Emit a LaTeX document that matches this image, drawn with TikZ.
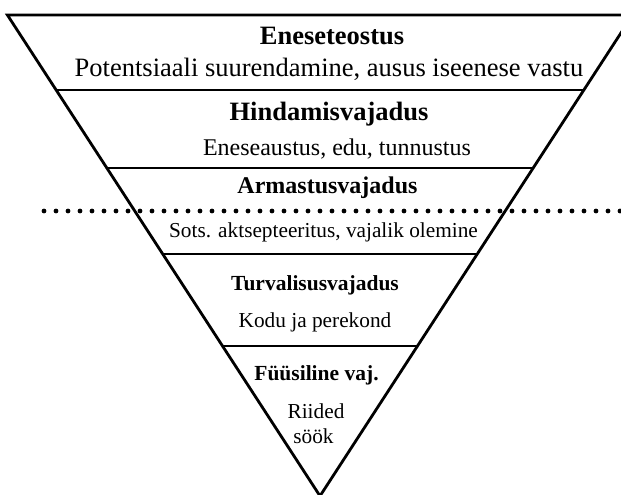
\documentclass[tikz,border=0pt]{standalone}
\usepackage{fontspec}
\setmainfont{Liberation Serif}
\usetikzlibrary{calc}
\begin{document}
\begin{tikzpicture}[x=1pt,y=-1pt,line width=2.8pt,
  lbl/.style={anchor=base,inner sep=0pt},
  big/.style={lbl,font=\fontsize{26.5}{30}\selectfont},
  bigb/.style={lbl,font=\fontsize{26.5}{30}\selectfont\bfseries},
  mid/.style={lbl,font=\fontsize{24}{28}\selectfont},
  midb/.style={lbl,font=\fontsize{24}{28}\selectfont\bfseries},
  sml/.style={lbl,font=\fontsize{21.3}{25}\selectfont},
  smlb/.style={lbl,font=\fontsize{21.5}{25}\selectfont\bfseries},
  dotline/.style={line width=4.8pt,line cap=round,dash pattern=on 0pt off 12pt}]
\useasboundingbox (0,0) rectangle (621,495);
\clip (0,0) rectangle (621,495);
\coordinate (L) at (7.4,15);
\coordinate (R) at (632.6,15);
\coordinate (A) at (320,496);
\draw (L) -- (R) -- (A) -- cycle;
\foreach \t in {0.1559,0.3181,0.4969,0.6881}
  \draw ($(L)!\t!(A)$) -- ($(R)!\t!(A)$);
\coordinate (d1) at (44,211);
\coordinate (d2) at (640,211);
\draw[dotline] (d1) -- (d2);
\node[bigb] (t1) at (332,45) {Eneseteostus};
\node[big] (s1) at (329,77) {Potentsiaali suurendamine, ausus iseenese vastu};
\node[bigb] (t2) at (329,120) {Hindamisvajadus};
\node[mid] (s2) at (337,155) {Eneseaustus, edu, tunnustus};
\node[midb] (t3) at (327.5,193) {Armastusvajadus};
\node[sml] (s3) at (323.5,237) {Sots. aktsepteeritus, vajalik olemine};
\node[smlb] (t4) at (315,290) {Turvalisusvajadus};
\node[sml] (s4) at (315,327) {Kodu ja perekond};
\node[smlb] (t5) at (316.5,380) {Füüsiline vaj.};
\node[sml] (s5a) at (316,418) {Riided};
\node[sml] (s5b) at (313.5,443) {söök};
\end{tikzpicture}
\end{document}
